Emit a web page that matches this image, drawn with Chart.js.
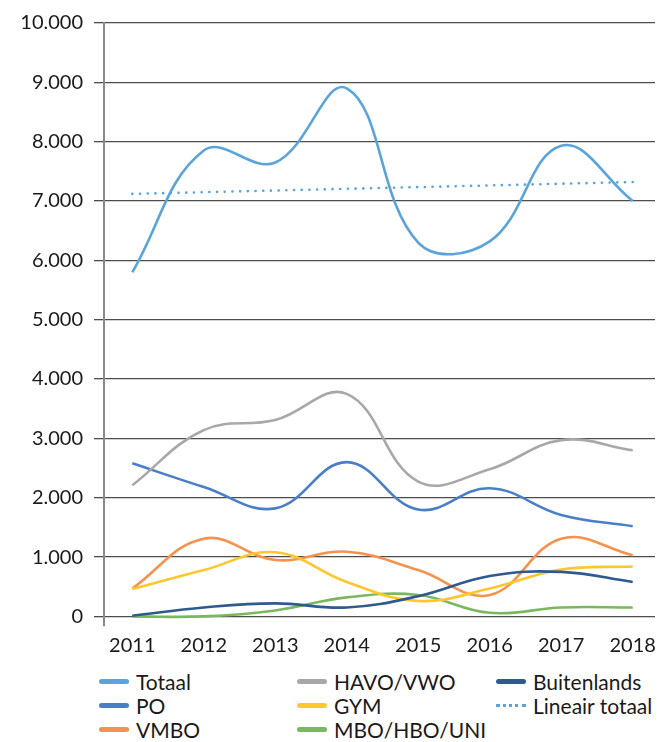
<!DOCTYPE html>
<html>
<head>
<meta charset="utf-8">
<script src="https://cdn.jsdelivr.net/npm/chart.js@4"></script>
<style>
    body { margin: 0; background: #fff; font-family: Lato, sans-serif; }
    #wrap { position: relative; width: 664px; height: 742px; }
    #legend { position: absolute; left: 99px; top: 669px; display: grid;
        grid-template-columns: 198px 199px 168px; row-gap: 0; }
    .item { display: flex; align-items: center; height: 24px; font-size: 21px; color: #1a1a1a; white-space: nowrap; }
    .swatch { width: 30px; height: 5px; border-radius: 3px; margin-right: 7px; }
    .dots { width: 30px; height: 0; border-top: 3px dotted; margin-right: 7px; }
</style>
</head>
<body>
<div id="wrap">
    <canvas id="chart" width="664" height="662"></canvas>
    <div id="legend"></div>
</div>
<script>
// years on the x axis
const years = [2011, 2012, 2013, 2014, 2015, 2016, 2017, 2018];

// series values
const totaal      = [5800, 7850, 7650, 8900, 6300, 6320, 7930, 7000];
const havoVwo     = [2210, 3140, 3310, 3750, 2270, 2480, 2970, 2800];
const buitenlands = [10, 150, 220, 150, 340, 680, 750, 580];
const po          = [2580, 2180, 1820, 2600, 1800, 2160, 1710, 1520];
const gym         = [460, 780, 1080, 580, 260, 470, 790, 840];
const vmbo        = [470, 1310, 950, 1090, 780, 360, 1310, 1030];
const mboHboUni   = [0, 0, 100, 320, 360, 60, 150, 150];

// trend line end points
const trendYears = [2011, 2018];
const trendTotaal = [7120, 7320];

// y tick labels
const yTicks = [0, 1000, 2000, 3000, 4000, 5000, 6000, 7000, 8000, 9000, 10000];

function pts(xs, ys) {
    return xs.map((x, i) => ({ x: x, y: ys[i] }));
}

function dutch(v) {
    return String(v).replace(/\B(?=(\d{3})+(?!\d))/g, '.');
}

const series = [
    { label: 'Totaal', data: totaal, color: '#5ba4db' },
    { label: 'HAVO/VWO', data: havoVwo, color: '#a8a8a8' },
    { label: 'Buitenlands', data: buitenlands, color: '#2e5a8d' },
    { label: 'PO', data: po, color: '#4a7ec6' },
    { label: 'GYM', data: gym, color: '#ffc72c' },
    { label: 'Lineair totaal', data: null, color: '#5ba4db', dotted: true },
    { label: 'VMBO', data: vmbo, color: '#f4924f' },
    { label: 'MBO/HBO/UNI', data: mboHboUni, color: '#7ab85f' }
];

const datasets = series.map(s => {
    if (s.dotted) {
        return {
            label: s.label,
            data: pts(trendYears, trendTotaal),
            borderColor: s.color,
            borderWidth: 2.6,
            borderDash: [0.1, 7.6],
            borderCapStyle: 'round',
            pointRadius: 0,
            tension: 0
        };
    }
    return {
        label: s.label,
        data: pts(years, s.data),
        borderColor: s.color,
        borderWidth: 2.6,
        pointRadius: 0,
        tension: 0.4
    };
});

new Chart(document.getElementById('chart'), {
    type: 'line',
    data: { datasets: datasets },
    options: {
        responsive: false,
        animation: false,
        layout: { padding: { top: 22, right: 9, left: 0, bottom: 0 } },
        plugins: { legend: { display: false }, tooltip: { enabled: false } },
        scales: {
            x: {
                type: 'linear',
                min: 2010.604,
                max: 2018.312,
                afterBuildTicks: axis => { axis.ticks = years.map(v => ({ value: v })); },
                afterFit: axis => { axis.height = 662 - 626; },
                grid: { display: false },
                border: { display: false },
                ticks: {
                    padding: 0,
                    color: '#1a1a1a',
                    font: { family: 'Lato', size: 20 },
                    maxRotation: 0,
                    callback: v => String(v)
                }
            },
            y: {
                min: -162,
                max: 10000,
                afterBuildTicks: axis => { axis.ticks = yTicks.map(v => ({ value: v })); },
                afterFit: axis => { axis.width = 104; },
                grid: { color: '#4d4d4d', lineWidth: 1.3, tickLength: 10 },
                border: { display: true, color: '#8a8a8a', width: 2 },
                ticks: {
                    padding: 11,
                    color: '#1a1a1a',
                    font: { family: 'Lato', size: 20 },
                    callback: v => dutch(v)
                }
            }
        }
    }
});

// legend in three columns, same order as the series
const legend = document.getElementById('legend');
series.forEach(s => {
    const item = document.createElement('div');
    item.className = 'item';
    const mark = document.createElement('span');
    if (s.dotted) {
        mark.className = 'dots';
        mark.style.borderColor = s.color;
    } else {
        mark.className = 'swatch';
        mark.style.background = s.color;
    }
    item.appendChild(mark);
    item.appendChild(document.createTextNode(s.label));
    legend.appendChild(item);
});
</script>
</body>
</html>
